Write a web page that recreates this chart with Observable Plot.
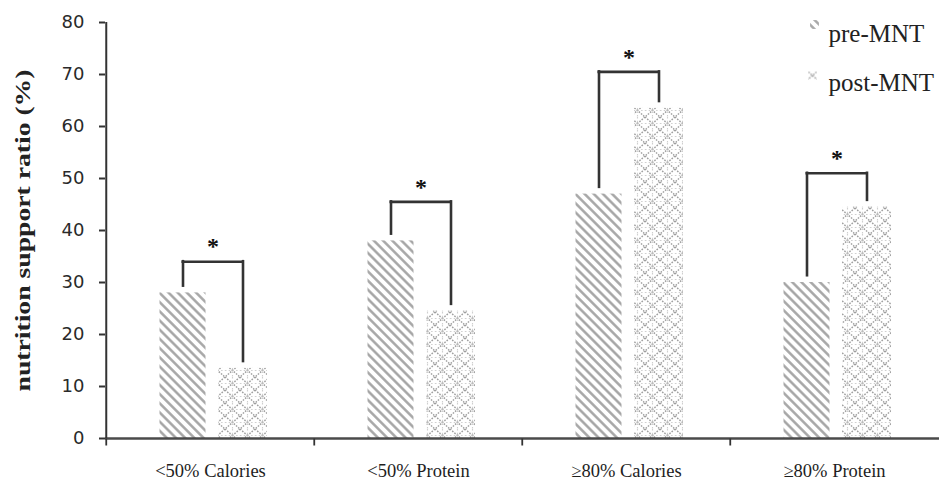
<!DOCTYPE html>
<html><head><meta charset="utf-8">
<script src="https://cdn.jsdelivr.net/npm/d3@7"></script>
<script src="https://cdn.jsdelivr.net/npm/@observablehq/plot@0.6"></script>
<style>body{margin:0;background:#fff;} #chart svg{display:block;}</style>
</head><body><div id="chart"></div>
<script>
// ---- data ----
const categories = ["<50% Calories", "<50% Protein", "≥80% Calories", "≥80% Protein"];
const series = ["pre-MNT", "post-MNT"];
const preValues = [28, 38, 47, 30];
const postValues = [13.5, 24.5, 63.5, 44.5];
const bracketTops = [34, 45.5, 70.5, 51];
const significance = ["*", "*", "*", "*"];
const yTicks = [0, 10, 20, 30, 40, 50, 60, 70, 80];
const yLabel = "nutrition support ratio (%)";

// ---- layout / style ----
const W = 939, H = 491, ML = 105, MR = 0, MT = 22, MB = 53;
const BW = (W - ML - MR) / categories.length;
const preBar = {l: 53.5, r: 100}, postBar = {l: 112, r: 161.5};
const preC = (preBar.l + preBar.r) / 2, postC = (postBar.l + postBar.r) / 2;
const legGap = 1.3;
const serif = "Liberation Serif, Times New Roman, serif";
const ink = "#2b2b2b";
const legendDx = [723, 723], legendDy = [1.5, 51];
const swatchDx = [709, 707], swatchDy = [2, 53];
const seriesFill = ["url(#pat-pre)", "url(#pat-post)"];

const rows = categories.map((c, i) => ({
  category: c, pre: preValues[i], post: postValues[i], top: bracketTops[i], sig: significance[i]
}));

const tickSymbol = {draw(ctx) { ctx.moveTo(0, 0); ctx.lineTo(0, 7); }};

const bracketStyle = {stroke: "#333", strokeWidth: 2.6, strokeLinecap: "square"};

const svg = Plot.plot({
  width: W, height: H,
  marginLeft: ML, marginRight: MR, marginTop: MT, marginBottom: MB,
  style: {fontFamily: serif, fontSize: "18px", color: ink, background: "#fff"},
  x: {domain: categories, padding: 0, label: null, tickSize: 0, tickPadding: 25},
  y: {domain: [yTicks[0], yTicks[yTicks.length - 1]], ticks: yTicks, tickSize: 6, tickPadding: 15, label: null},
  marks: [
    Plot.barY(rows, {x: "category", y: "pre", fill: seriesFill[0], insetLeft: preBar.l, insetRight: BW - preBar.r}),
    Plot.barY(rows, {x: "category", y: "post", fill: seriesFill[1], insetLeft: postBar.l, insetRight: BW - postBar.r}),
    Plot.ruleY([yTicks[0]], {stroke: "#4a4a4a", strokeWidth: 2.6}),
    Plot.ruleX([categories[0]], {x: d => d, dx: -BW / 2, y1: () => yTicks[0], y2: () => yTicks[yTicks.length - 1], stroke: "#333", strokeWidth: 2}),
    Plot.dot(categories, {x: d => d, y: () => yTicks[0], dx: -BW / 2, symbol: tickSymbol, r: 1, fill: "none", stroke: "#333", strokeWidth: 1.8}),
    // significance brackets
    Plot.ruleX(rows, {x: "category", y1: "top", y2: d => d.pre + legGap, dx: preC - BW / 2, ...bracketStyle}),
    Plot.ruleX(rows, {x: "category", y1: "top", y2: d => d.post + legGap, dx: postC - BW / 2, ...bracketStyle}),
    Plot.tickY(rows, {x: "category", y: "top", insetLeft: preC, insetRight: BW - postC, ...bracketStyle}),
    Plot.text(rows, {x: "category", y: "top", text: "sig", dx: (preC + postC) / 2 - BW / 2, dy: -15, fontSize: 24, fontWeight: "bold", fontFamily: serif, fill: "#111"}),
    // legend
    ...series.map((s, i) => Plot.dot([s], {frameAnchor: "top-left", dx: swatchDx[i], dy: swatchDy[i], symbol: "square", r: 5, fill: seriesFill[i]})),
    ...series.map((s, i) => Plot.text([s], {text: d => d, frameAnchor: "top-left", dx: legendDx[i], dy: legendDy[i], textAnchor: "start", fontSize: 25, fontFamily: serif, fill: "#222"})),
    // y title
    Plot.text([yLabel], {text: d => d, frameAnchor: "left", textAnchor: "middle", rotate: -90, dx: -82, fontSize: 21, fontWeight: "bold", fontFamily: serif, fill: "#222"})
  ]
});

// patterns
const defs = document.createElementNS("http://www.w3.org/2000/svg", "defs");
defs.innerHTML = `
<pattern id="pat-pre" patternUnits="userSpaceOnUse" width="6.5" height="6.5" patternTransform="rotate(-45)">
  <rect width="6.5" height="6.5" fill="#fff"/>
  <line x1="3.25" y1="-1" x2="3.25" y2="7.5" stroke="#a2a2a2" stroke-width="2.4"/>
</pattern>
<pattern id="pat-post" patternUnits="userSpaceOnUse" width="15" height="13">
  <rect width="15" height="13" fill="#fff"/>
  <path d="M0,0L15,13M15,0L0,13" stroke="#9e9e9e" stroke-width="1.4" stroke-dasharray="1.6 1.3" fill="none"/>
  <path d="M0,6.5L15,6.5M7.5,0L7.5,13" stroke="#cfcfcf" stroke-width="1.1" stroke-dasharray="1.5 2.2" fill="none"/>
</pattern>`;
svg.insertBefore(defs, svg.firstChild);

// axis styling
svg.querySelectorAll('[aria-label^="y-axis"] text').forEach(t => {
  t.style.fontFamily = "DejaVu Sans, sans-serif"; t.style.fontSize = "18px"; t.style.fill = "#2a2a2a";
});
svg.querySelectorAll('[aria-label^="y-axis"] path, [aria-label^="y-axis"] line').forEach(p => {
  p.style.strokeWidth = "2"; p.style.stroke = "#333";
});
svg.querySelectorAll('[aria-label^="x-axis"] text').forEach(t => {
  t.style.fontFamily = serif; t.style.fontSize = "18.5px"; t.style.fill = "#1e1e1e";
});
svg.querySelectorAll("text").forEach(t => {
  if (t.textContent === yLabel) { t.setAttribute("textLength", 322); t.setAttribute("lengthAdjust", "spacingAndGlyphs"); }
});

document.getElementById("chart").appendChild(svg);
</script>
</body></html>
